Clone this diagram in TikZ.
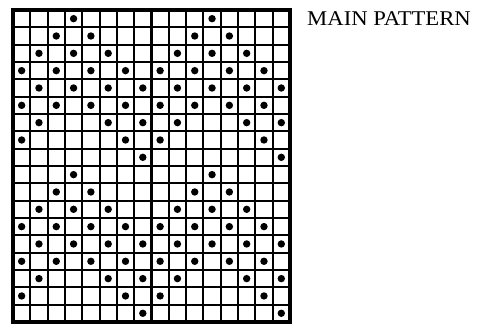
\documentclass[tikz,border=0pt]{standalone}
\usepackage{fontspec}
\setmainfont{Liberation Serif}
\usepackage{tikz}

\begin{document}
\begin{tikzpicture}[x=1pt,y=-1pt]
        \useasboundingbox (0,0) rectangle (483,324);
        % Linee interne della griglia
        \foreach \i in {1,...,15}
            \draw[line width=2.1pt] (13+17.31*\i,10) -- (13+17.31*\i,322);
        \foreach \j in {1,...,17}
            \draw[line width=2.1pt] (13,10+17.33*\j) -- (290,10+17.33*\j);
        % Bordo esterno
        \draw[line width=3.6pt] (13,10) rectangle (290,322);

        % Punti del motivo (ripetuto ogni 9 righe)
        \foreach \r/\cols in {0/{3,11},
                              1/{2,4,10,12},
                              2/{1,3,5,9,11,13},
                              3/{0,2,4,6,8,10,12,14},
                              4/{1,3,5,7,9,11,13,15},
                              5/{0,2,4,6,8,10,12,14},
                              6/{1,5,7,9,13,15},
                              7/{0,6,8,14},
                              8/{7,15}} {
            \foreach \c in \cols {
                \fill (21.65+17.31*\c,18.67+17.33*\r) circle[radius=3.7pt];
                \fill (21.65+17.31*\c,18.67+17.33*\r+155.97) circle[radius=3.7pt];
            }
        }

        % Titolo
        \node[anchor=base west, inner sep=0pt, xscale=1.08, font=\fontsize{21}{23}\selectfont] (titolo) at (307,26) {MAIN PATTERN};
\end{tikzpicture}
\end{document}
